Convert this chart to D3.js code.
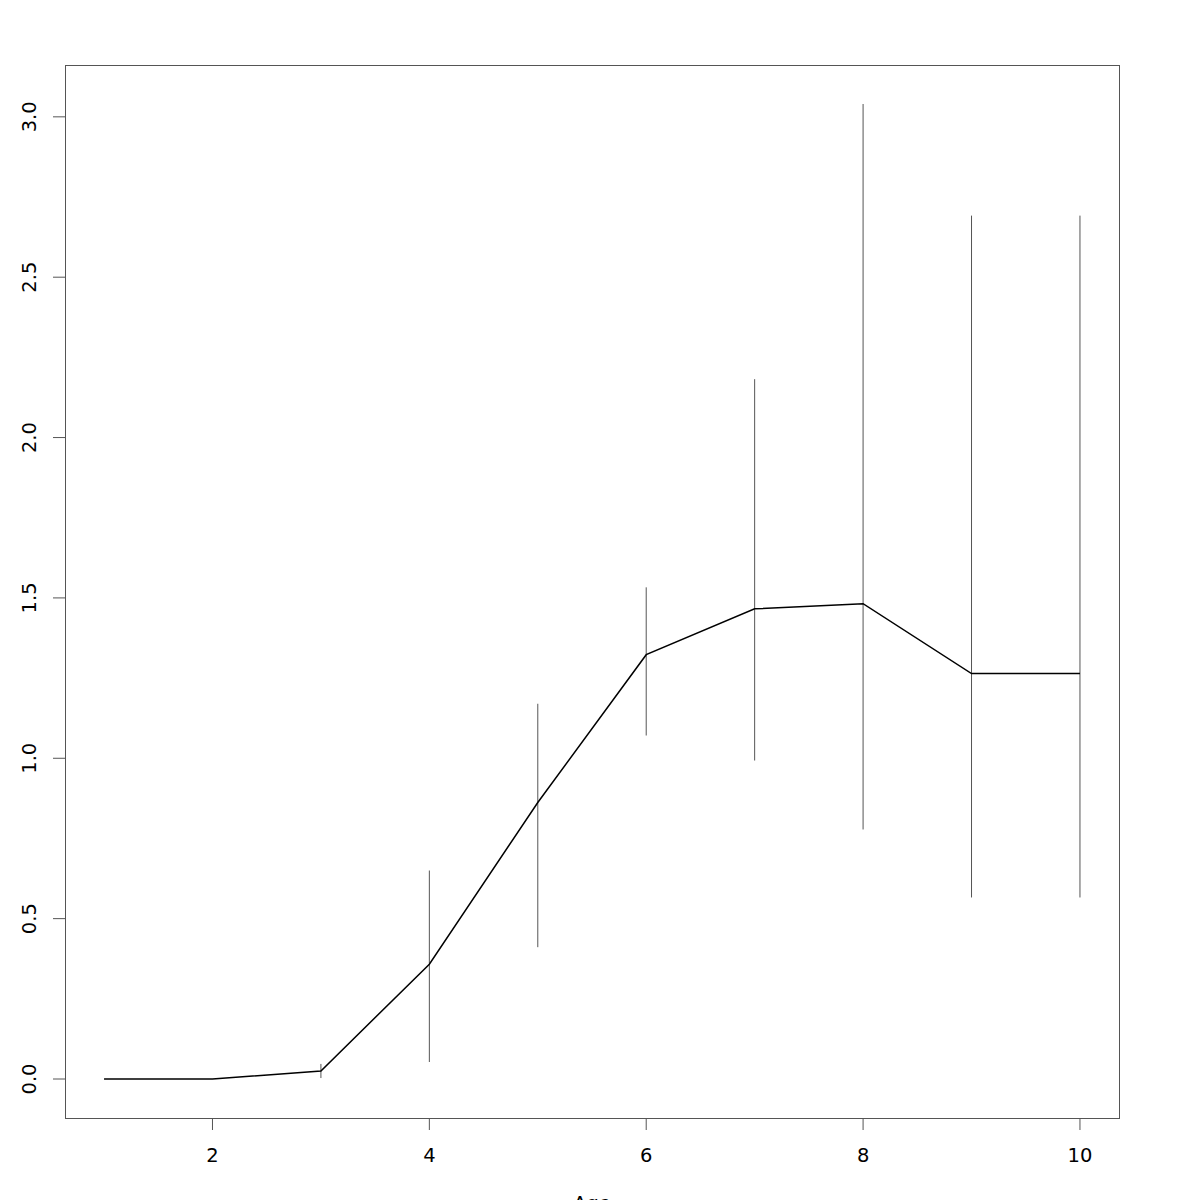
<!DOCTYPE html>
<html><head><meta charset="utf-8">
<script src="https://cdn.jsdelivr.net/npm/d3@7"></script>
<style>body{margin:0;background:#fff}svg{display:block}text{font-family:"DejaVu Sans",sans-serif;fill:#000}</style>
</head><body>
<script>
const ages = [1,2,3,4,5,6,7,8,9,10];
const means = [0,0,0.025,0.358,0.862,1.323,1.466,1.482,1.264,1.264];
const upper = [0,0,0.047,0.650,1.170,1.533,2.182,3.040,2.692,2.692];
const lower = [0,0,0.003,0.053,0.411,1.071,0.993,0.778,0.566,0.566];
const xTicks = [2,4,6,8,10];
const yTicks = [0,0.5,1,1.5,2,2.5,3];
const xLabel = "Age";

const W=1200,H=1200;
const L=65,R=1119,T=65,B=1118;
const svg=d3.select("body").append("svg").attr("width",W).attr("height",H);
const x=d3.scaleLinear().domain([0.64,10.36]).range([L,R]);
const y=d3.scaleLinear().domain([-0.1216,3.1616]).range([B,T]);

// error bars
svg.append("g").selectAll("line").data(ages.map((a,i)=>({a,lo:lower[i],hi:upper[i]})).filter(d=>d.hi>d.lo))
 .join("line").attr("x1",d=>x(d.a)).attr("x2",d=>x(d.a)).attr("y1",d=>y(d.lo)).attr("y2",d=>y(d.hi))
 .attr("stroke","#555").attr("stroke-width",1);

// mean line
svg.append("path").datum(ages.map((a,i)=>[a,means[i]]))
 .attr("d",d3.line().x(d=>x(d[0])).y(d=>y(d[1])))
 .attr("fill","none").attr("stroke","#000").attr("stroke-width",1.5);

// box
svg.append("rect").attr("x",L+0.5).attr("y",T+0.5).attr("width",R-L).attr("height",B-T)
 .attr("fill","none").attr("stroke","#555").attr("stroke-width",1);

// x axis
const xa=svg.append("g");
xTicks.forEach(t=>{
  xa.append("line").attr("x1",x(t)).attr("x2",x(t)).attr("y1",B).attr("y2",B+12).attr("stroke","#555");
  xa.append("text").attr("x",x(t)).attr("y",1162).attr("text-anchor","middle").attr("font-size",19.5).text(t);
});
// y axis
const ya=svg.append("g");
yTicks.forEach(t=>{
  ya.append("line").attr("x1",L).attr("x2",L-12).attr("y1",y(t)).attr("y2",y(t)).attr("stroke","#555");
  ya.append("text").attr("transform",`translate(35.5,${y(t)}) rotate(-90)`).attr("text-anchor","middle").attr("font-size",19.5).text(t.toFixed(1));
});
svg.append("text").attr("x",(L+R)/2).attr("y",1210).attr("text-anchor","middle").attr("font-size",19.5).text(xLabel);
</script>
</body></html>
